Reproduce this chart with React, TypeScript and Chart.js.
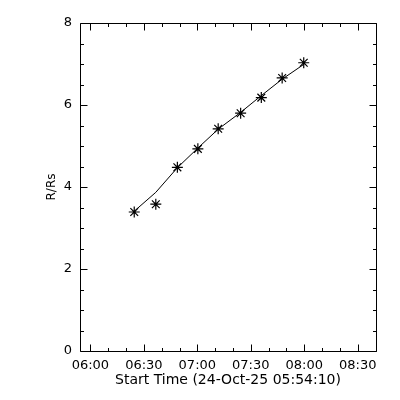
import React, { useEffect, useRef } from 'react';
import { Chart, registerables } from 'chart.js';

Chart.register(...registerables);

// Observation times (UT) and measured heights (solar radii)
const obsTimes = ['06:24:36', '06:36:42', '06:48:48', '07:00:18', '07:11:42', '07:24:18', '07:35:54', '07:47:36', '07:59:42'];
const heights = [3.39, 3.58, 4.48, 4.93, 5.42, 5.80, 6.18, 6.66, 7.03];
// Fitted height curve at the same times
const fitHeights = [3.41, 3.87, 4.47, 4.95, 5.41, 5.82, 6.23, 6.63, 6.99];

const xStart = '05:54:10';
const xEnd = '08:40:15';
const xMajorTicks = ['06:00', '06:30', '07:00', '07:30', '08:00', '08:30'];
const xMinorTicks = ['06:10', '06:20', '06:40', '06:50', '07:10', '07:20', '07:40', '07:50', '08:10', '08:20', '08:40'];
const yMajorTicks = [0, 2, 4, 6, 8];
const yMinorTicks = [0.5, 1, 1.5, 2.5, 3, 3.5, 4.5, 5, 5.5, 6.5, 7, 7.5];
const xTitle = 'Start Time (24-Oct-25 05:54:10)';
const yTitle = 'R/Rs';

const toMin = (s: string) => {
  const [h, m, sec = '0'] = s.split(':');
  return Number(h) * 60 + Number(m) + Number(sec) / 60;
};
const pad = (n: number) => (n < 10 ? '0' + n : String(n));
const fmt = (v: number) => {
  const h = Math.floor(v / 60 + 1e-6);
  const m = Math.round(v - h * 60);
  return pad(h) + ':' + pad(m);
};

const FONT = 'DejaVu Sans';

const idlAxes = {
  id: 'idlAxes',
  afterDatasetsDraw(chart: any) {
    const { ctx, chartArea: a, scales } = chart;
    const x = scales.x;
    const y = scales.y;
    const L = Math.round(a.left) + 0.5;
    const R = Math.round(a.right) + 0.5;
    const T = Math.round(a.top) + 0.5;
    const B = Math.round(a.bottom) + 0.5;
    ctx.save();
    ctx.strokeStyle = '#000';
    ctx.lineWidth = 1;
    ctx.beginPath();
    ctx.rect(L, T, R - L, B - T);
    const xt = (vals: string[], len: number) => {
      vals.forEach((t) => {
        const px = Math.round(x.getPixelForValue(toMin(t))) + 0.5;
        ctx.moveTo(px, B);
        ctx.lineTo(px, B - len);
        ctx.moveTo(px, T);
        ctx.lineTo(px, T + len);
      });
    };
    const yt = (vals: number[], len: number) => {
      vals.forEach((v) => {
        const py = Math.round(y.getPixelForValue(v)) + 0.5;
        ctx.moveTo(L, py);
        ctx.lineTo(L + len, py);
        ctx.moveTo(R, py);
        ctx.lineTo(R - len, py);
      });
    };
    xt(xMajorTicks, 7);
    xt(xMinorTicks, 3.5);
    yt(yMajorTicks, 7);
    yt(yMinorTicks, 3.5);
    ctx.stroke();
    ctx.restore();
  },
};

export default function App() {
  const ref = useRef<HTMLCanvasElement | null>(null);

  useEffect(() => {
    if (!ref.current) return;
    const times = obsTimes.map(toMin);
    const chart = new Chart(ref.current, {
      type: 'scatter',
      data: {
        datasets: [
          {
            label: 'fit',
            data: times.map((t, i) => ({ x: t, y: fitHeights[i] })),
            showLine: true,
            borderColor: '#000',
            borderWidth: 1,
            pointRadius: 0,
            fill: false,
          },
          {
            label: 'height',
            data: times.map((t, i) => ({ x: t, y: heights[i] })),
            showLine: false,
            pointStyle: 'star',
            pointRadius: 5.5,
            pointBorderColor: '#000',
            pointBackgroundColor: '#000',
            pointBorderWidth: 1.2,
          },
        ],
      },
      options: {
        animation: false,
        responsive: false,
        events: [],
        layout: { padding: { left: 0, top: 23, right: 24, bottom: 0 } },
        plugins: { legend: { display: false }, tooltip: { enabled: false } },
        scales: {
          x: {
            type: 'linear',
            min: toMin(xStart),
            max: toMin(xEnd),
            grid: { display: false, drawTicks: false },
            border: { display: false },
            afterBuildTicks: (axis: any) => {
              axis.ticks = xMajorTicks.map((t) => ({ value: toMin(t) }));
            },
            afterFit: (scale: any) => {
              scale.height = 49;
            },
            ticks: {
              padding: 7,
              autoSkip: false,
              maxRotation: 0,
              color: '#000',
              font: { family: FONT, size: 13 },
              callback: (v: any) => fmt(Number(v)),
            },
            title: {
              display: true,
              text: xTitle,
              color: '#000',
              font: { family: FONT, size: 14 },
              padding: { top: 0, bottom: 11 },
            },
          },
          y: {
            type: 'linear',
            min: 0,
            max: 8,
            grid: { display: false, drawTicks: false },
            border: { display: false },
            afterBuildTicks: (axis: any) => {
              axis.ticks = yMajorTicks.map((v) => ({ value: v }));
            },
            afterFit: (scale: any) => {
              scale.width = 80;
            },
            ticks: {
              padding: 8,
              color: '#000',
              font: { family: FONT, size: 13 },
              callback: (v: any) => String(v),
            },
            title: {
              display: true,
              text: yTitle,
              color: '#000',
              font: { family: FONT, size: 12 },
              padding: { top: 45, bottom: 0 },
            },
          },
        },
      },
      plugins: [idlAxes],
    });
    return () => chart.destroy();
  }, []);

  return (
    <div style={{ position: 'absolute', left: 0, top: 0, width: 400, height: 400, background: '#fff' }}>
      <canvas ref={ref} width={400} height={400} />
    </div>
  );
}
